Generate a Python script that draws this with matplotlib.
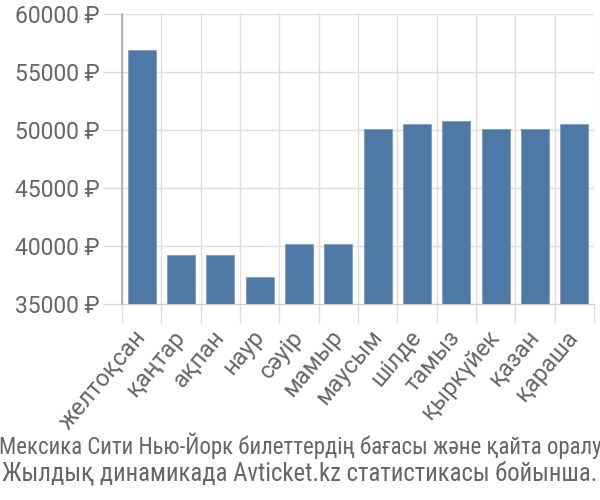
import matplotlib
matplotlib.use("Agg")
import matplotlib.pyplot as plt
from matplotlib.ticker import FixedLocator
from matplotlib.transforms import ScaledTranslation

months = ["желтоқсан", "қаңтар", "ақпан", "наур", "сәуір", "мамыр",
          "маусым", "шілде", "тамыз", "қыркүйек", "қазан", "қараша"]
prices = [56900, 39200, 39200, 37300, 40200, 40200,
          50100, 50500, 50800, 50100, 50100, 50500]
yticks = [35000, 40000, 45000, 50000, 55000, 60000]
ytick_labels = [f"{v} ₽" for v in yticks]
caption = ["Мексика Сити Нью-Йорк билеттердің бағасы және қайта оралу",
           "Жылдық динамикада Avticket.kz статистикасы бойынша."]

plt.rcParams['font.family'] = ['Roboto', 'DejaVu Sans']

fig = plt.figure(figsize=(6, 5), dpi=100)
ax = fig.add_axes([122/600, 1-304/500, (594-122)/600, (304-14)/500])

x = list(range(len(months)))
ax.bar(x, [p - 35000 for p in prices], bottom=35000, width=0.72,
       color="#4e79a7", edgecolor="#7d9cc0", linewidth=0.6, zorder=3)

ax.set_ylim(35000, 60000)
ax.set_xlim(-0.5, len(months) - 0.5)
ax.set_yticks(yticks)
ax.set_yticklabels(ytick_labels)
ax.set_xticks(x)
ax.set_xticklabels(months, rotation=50, ha="right", va="center", rotation_mode="anchor")
ax.xaxis.set_minor_locator(FixedLocator([i - 0.5 for i in range(len(months) + 1)]))
shift = ScaledTranslation(6/100, 0, fig.dpi_scale_trans)
for lbl in ax.get_xticklabels():
    lbl.set_transform(lbl.get_transform() + shift)

ax.tick_params(axis="y", length=14, width=1, color="#dddddd", labelsize=16.5,
               labelcolor="#666666", pad=2)
ax.tick_params(axis="x", which="major", length=0, labelsize=17,
               labelcolor="#666666", pad=21)
ax.tick_params(axis="x", which="minor", length=14, width=1, color="#dddddd")

ax.grid(axis="y", which="major", color="#dddddd", linewidth=1, zorder=0)
ax.grid(axis="x", which="minor", color="#dddddd", linewidth=1, zorder=0)
ax.grid(axis="x", which="major", visible=False)

for s in ["top", "right"]:
    ax.spines[s].set_visible(False)
ax.spines["left"].set_color("#aaaaaa")
ax.spines["left"].set_linewidth(1.2)
ax.spines["bottom"].set_color("#cccccc")

for i, (line, size) in enumerate(zip(caption, [16.5, 17.8])):
    fig.text(0.5, 1 - (446 + 27 * i)/500, line, ha="center", va="center",
             fontsize=size, color="#666666", family=['Roboto Condensed', 'DejaVu Sans'])

fig.savefig("out.png", dpi=100)
